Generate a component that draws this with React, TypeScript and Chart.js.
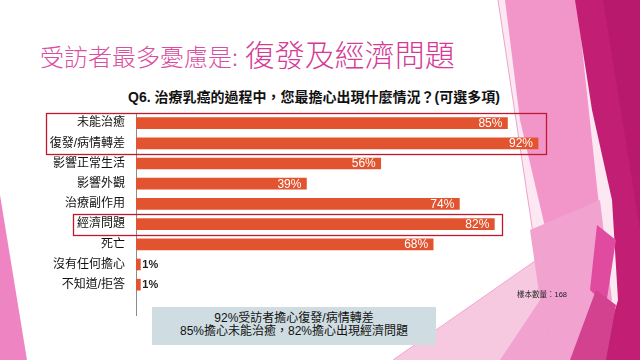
import React, { useEffect, useRef } from 'react';
import { Chart, registerables } from 'chart.js';

Chart.register(...registerables);

// ---- data ----
const categories = ['未能治癒', '復發/病情轉差', '影響正常生活', '影響外觀', '治療副作用', '經濟問題', '死亡', '沒有任何擔心', '不知道/拒答'];
const values = [85, 92, 56, 39, 74, 82, 68, 1, 1];
const valueLabels = ['85%', '92%', '56%', '39%', '74%', '82%', '68%', '1%', '1%'];
const highlightGroups = [[0, 1], [5]];
const titleLight = '受訪者最多憂慮是:';
const titleBold = '復發及經濟問題';
const question = 'Q6. 治療乳癌的過程中，您最擔心出現什麼情況？(可選多項)';
const summaryLines = ['92%受訪者擔心復發/病情轉差', '85%擔心未能治癒，82%擔心出現經濟問題'];
const sampleNote = '樣本數量：168';

const FONT = "'Liberation Sans', 'Noto Sans CJK TC', sans-serif";
const TICK_PAD = 11;
const TICK_FONT = `12px ${FONT}`;

const overlayPlugin = {
  id: 'overlay',
  afterDatasetsDraw(chart: any) {
    const ctx = chart.ctx;
    const meta = chart.getDatasetMeta(0);
    const xs = chart.scales.x;
    const ys = chart.scales.y;
    ctx.save();
    ctx.textBaseline = 'middle';
    meta.data.forEach((bar: any, i: number) => {
      if (i >= values.length) return;
      const { x, y } = bar.getProps(['x', 'y'], true);
      if (values[i] >= 10) {
        ctx.font = `12px ${FONT}`;
        ctx.fillStyle = '#ffffff';
        ctx.textAlign = 'right';
        ctx.fillText(valueLabels[i], x - 5, y + 0.5);
      } else {
        ctx.font = `bold 11px ${FONT}`;
        ctx.fillStyle = '#222222';
        ctx.textAlign = 'left';
        ctx.fillText(valueLabels[i], x + 2, y + 0.5);
      }
    });
    const band = ys.getPixelForValue(1) - ys.getPixelForValue(0);
    ctx.font = TICK_FONT;
    ctx.strokeStyle = '#c0182e';
    ctx.lineWidth = 1.3;
    highlightGroups.forEach((g) => {
      let left = Infinity;
      let right = -Infinity;
      g.forEach((i) => {
        const w = ctx.measureText(categories[i]).width;
        left = Math.min(left, ys.right - TICK_PAD - w - 4);
        right = Math.max(right, xs.getPixelForValue(values[i]) + 8);
      });
      const top = ys.getPixelForValue(g[0]) - band / 2;
      const bottom = ys.getPixelForValue(g[g.length - 1]) + band / 2 + 1;
      ctx.strokeRect(Math.round(left) + 0.5, Math.round(top) + 0.5, Math.round(right - left), Math.round(bottom - top));
    });
    ctx.restore();
  },
};

function Background() {
  return (
    <svg width={640} height={360} style={{ position: 'absolute', left: 0, top: 0 }}>
      <polygon points="0,195 27,360 0,360" fill="#ef84c2" />
      <polygon points="498,0 640,0 640,360 552,360" fill="#fce8f2" />
      <polygon points="393,360 565,240 575,360" fill="#f7c9e1" />
      <polygon points="505,0 577,0 600,215 548,240 520,120" fill="#f296c9" />
      <polygon points="530,230 600,200 612,300 575,360 500,360 540,300" fill="#f1a2cf" />
      <polygon points="575,0 640,0 640,360 600,360 618,300 612,200 592,110" fill="#c21f74" />
      <polygon points="603,0 640,0 640,230" fill="#b9196c" />
      <polygon points="597,225 616,240 606,305 590,290" fill="#e04a9f" />
      <polygon points="570,360 606,360 616,305 596,290" fill="#d2428f" />
      <line x1="393" y1="360" x2="565" y2="240" stroke="#f2a6cf" strokeWidth="1" />
      <line x1="498" y1="0" x2="552" y2="360" stroke="#eea3cb" strokeWidth="1" />
    </svg>
  );
}

export default function App() {
  const canvasRef = useRef<HTMLCanvasElement | null>(null);

  useEffect(() => {
    if (!canvasRef.current) return;
    const chart = new Chart(canvasRef.current, {
      type: 'bar',
      data: {
        labels: [...categories, ''],
        datasets: [
          {
            data: [...values, null],
            backgroundColor: '#e2542f',
            borderWidth: 0,
            barThickness: 11,
          },
        ],
      },
      options: {
        indexAxis: 'y',
        responsive: false,
        maintainAspectRatio: false,
        animation: false,
        layout: { padding: { left: 0, right: 67, top: 113, bottom: 45 } },
        plugins: { legend: { display: false }, tooltip: { enabled: false }, title: { display: false } },
        scales: {
          x: { display: false, min: 0, max: 100 },
          y: {
            grid: { display: false, drawTicks: false },
            border: { display: true, color: '#8c8c8c', width: 1 },
            ticks: { padding: TICK_PAD, color: '#111111', font: { size: 12, family: FONT } },
            afterFit(scale: any) {
              scale.width = 136;
            },
          },
        },
      },
      plugins: [overlayPlugin],
    });
    return () => chart.destroy();
  }, []);

  return (
    <div style={{ position: 'absolute', left: 0, top: 0, width: 640, height: 360, overflow: 'hidden', background: '#ffffff', fontFamily: FONT }}>
      <Background />
      <div style={{ position: 'absolute', left: 40, top: 35, height: 36, lineHeight: '36px', whiteSpace: 'nowrap', color: '#db4ea3' }}>
        <span style={{ fontSize: 24, fontWeight: 300, fontFamily: "'Noto Sans CJK TC', sans-serif" }}>{titleLight}</span>
        <span style={{ fontSize: 30, fontWeight: 300, color: '#d43b97', fontFamily: "'Noto Sans CJK TC', sans-serif" }}>{' '}{titleBold}</span>
      </div>
      <div style={{ position: 'absolute', left: 0, width: 628, top: 88, textAlign: 'center', fontSize: 14, fontWeight: 'bold', color: '#111', whiteSpace: 'nowrap', lineHeight: '18px' }}>
        {question}
      </div>
      <canvas ref={canvasRef} width={640} height={360} style={{ position: 'absolute', left: 0, top: 0, width: 640, height: 360 }} />
      <div style={{ position: 'absolute', left: 152, top: 307, width: 284, height: 38, background: '#cfdde2', display: 'flex', flexDirection: 'column', justifyContent: 'center', alignItems: 'center', fontSize: 12, lineHeight: '13px', color: '#111', paddingBottom: 3, boxSizing: 'border-box' }}>
        {summaryLines.map((l) => (
          <div key={l}>{l}</div>
        ))}
      </div>
      <div style={{ position: 'absolute', left: 517, top: 290, fontSize: 7.5, lineHeight: '10px', color: '#222', whiteSpace: 'nowrap' }}>{sampleNote}</div>
    </div>
  );
}
